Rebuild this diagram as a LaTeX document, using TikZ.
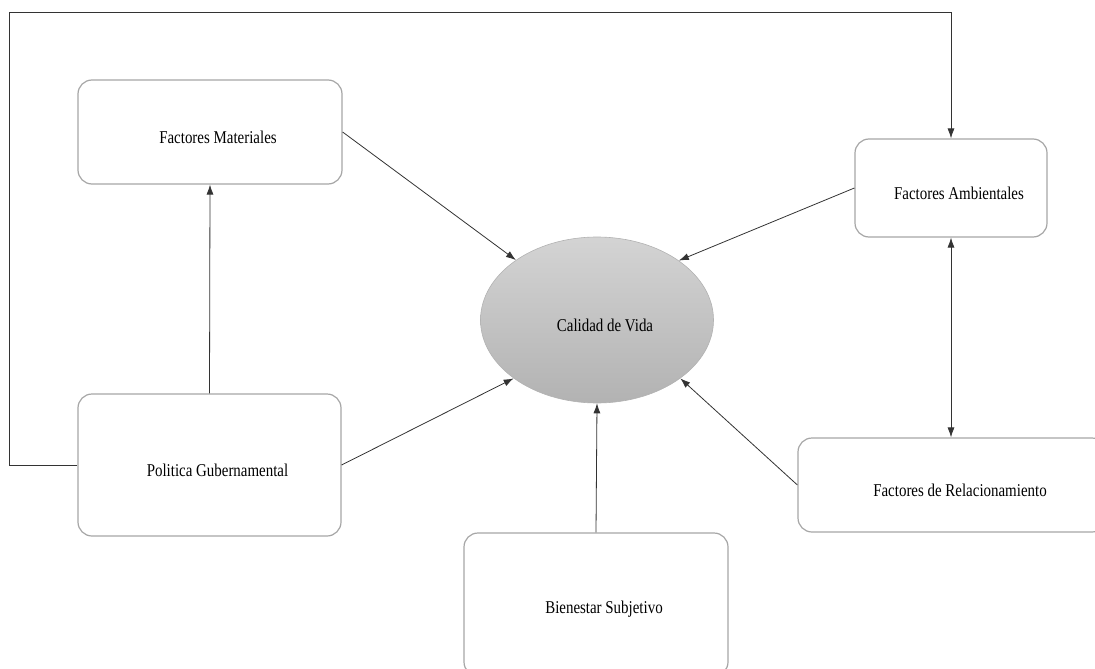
\documentclass[tikz,border=0pt]{standalone}
\usepackage{fontspec}
\setmainfont{Liberation Serif}[FakeStretch=0.83]
\usetikzlibrary{shapes.geometric,arrows.meta}

\begin{document}
\begin{tikzpicture}[x=1pt,y=-1pt,>={Latex[length=10pt,width=7pt]},
    draw=black!80, line width=0.8pt, font=\fontsize{18}{21}\selectfont]
    \tikzstyle{factor}=[rectangle,rounded corners=14pt,draw=black!35,line width=1.2pt,fill=white,inner sep=0pt]
    \tikzstyle{centre}=[ellipse,draw=black!30,line width=0.6pt,top color=black!17,bottom color=black!30,inner sep=0pt]
    \tikzstyle{lbl}=[xshift=8pt,yshift=-5pt,inner sep=0pt]
    \tikzstyle{link}=[->,draw=black!80]

    \path[use as bounding box,clip] (0,0) rectangle (1095,669);

    % The factor boxes and the centre.
    \node[factor,minimum width=264pt,minimum height=104pt,label={[lbl]center:Factores Materiales}] (fm) at (210,132) {};
    \node[factor,minimum width=192pt,minimum height=98pt,label={[lbl]center:Factores Ambientales}] (fa) at (951,188) {};
    \node[centre,minimum width=233pt,minimum height=166pt,label={[lbl]center:Calidad de Vida}] (cv) at (597,320) {};
    \node[factor,minimum width=263pt,minimum height=142pt,label={[lbl]center:Politica Gubernamental}] (pg) at (209.5,465) {};
    \node[factor,minimum width=308pt,minimum height=94pt,label={[lbl]center:Factores de Relacionamiento}] (fr) at (952,485) {};
    \node[factor,minimum width=264pt,minimum height=143pt,label={[lbl]center:Bienestar Subjetivo}] (bs) at (596,604.5) {};

    % Connect the factors with the centre.
    \draw[link] (fm.east) -- (cv);
    \draw[link] (fa.west) -- (cv.36);
    \draw[link] (pg.east) -- (cv.215);
    \draw[link] (fr.west) -- (cv.325);
    \draw[link] (bs.north) -- (cv.south);

    % Links between the factors.
    \draw[link] (pg.north) -- (fm.south);
    \draw[<->] (fa.south) -- (fa.south |- fr.north);
    \coordinate (corner) at (9,12);
    \draw[link] (pg.west) -| (corner) -| (fa.north);
\end{tikzpicture}
\end{document}
